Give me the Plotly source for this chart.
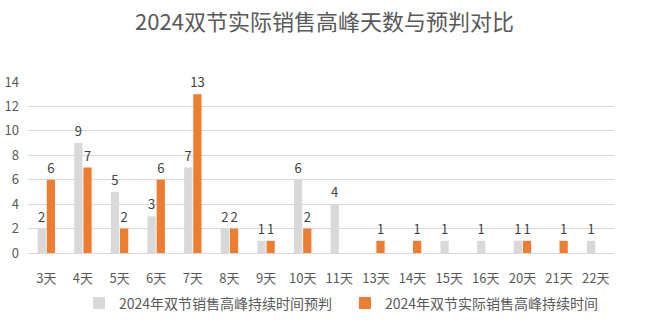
import plotly.graph_objects as go

categories = ["3天", "4天", "5天", "6天", "7天", "8天", "9天", "10天", "11天",
              "13天", "14天", "15天", "16天", "20天", "21天", "22天"]
predicted = [2, 9, 5, 3, 7, 2, 1, 6, 4, None, None, 1, 1, 1, None, 1]
actual = [6, 7, 2, 6, 13, 2, 1, 2, None, 1, 1, None, None, 1, 1, None]
series_names = ["2024年双节销售高峰持续时间预判", "2024年双节实际销售高峰持续时间"]
yticks = [0, 2, 4, 6, 8, 10, 12, 14]

FONT = "Noto Sans CJK SC, Microsoft YaHei, sans-serif"

fig = go.Figure()
fig.add_trace(go.Bar(
    x=categories, y=predicted, name=series_names[0],
    marker=dict(color="#D9D9D9", line=dict(width=0)),
    text=[("" if v is None else str(v)) for v in predicted],
    textposition="outside", textfont=dict(size=13, color="#404040"),
    cliponaxis=False,
))
fig.add_trace(go.Bar(
    x=categories, y=actual, name=series_names[1],
    marker=dict(color="#ED7D31", line=dict(width=0)),
    text=[("" if v is None else str(v)) for v in actual],
    textposition="outside", textfont=dict(size=13, color="#404040"),
    cliponaxis=False,
))

fig.update_layout(
    width=656, height=332,
    margin=dict(l=28, r=42, t=82, b=74),
    paper_bgcolor="white", plot_bgcolor="white",
    font=dict(family=FONT, size=13, color="#595959"),
    title=dict(text="2024双节实际销售高峰天数与预判对比", x=0.506, xanchor="center",
               xref="paper", yref="container", y=0.934, yanchor="middle",
               font=dict(size=22, color="#595959", family=FONT)),
    barmode="group", bargap=0.5, bargroupgap=0.1,
    showlegend=True,
    legend=dict(orientation="h", x=0.087, xanchor="left", y=-0.295, yanchor="middle",
                font=dict(size=14, color="#595959"), itemwidth=30,
                entrywidth=221, entrywidthmode="pixels",
                traceorder="normal"),
    uniformtext=dict(minsize=13, mode="show"),
)
fig.update_xaxes(
    type="category", showgrid=False, showline=True, linecolor="#D9D9D9",
    tickfont=dict(size=13, color="#595959"), ticks="", ticklabelstandoff=13,
    automargin=False,
)
fig.update_yaxes(
    range=[0, 14], tickvals=yticks, showgrid=True, gridcolor="#D9D9D9",
    zeroline=False, showline=False, ticks="", ticklabelstandoff=8,
    tickfont=dict(size=13, color="#595959"), automargin=False,
)

fig.write_html("out.html")
